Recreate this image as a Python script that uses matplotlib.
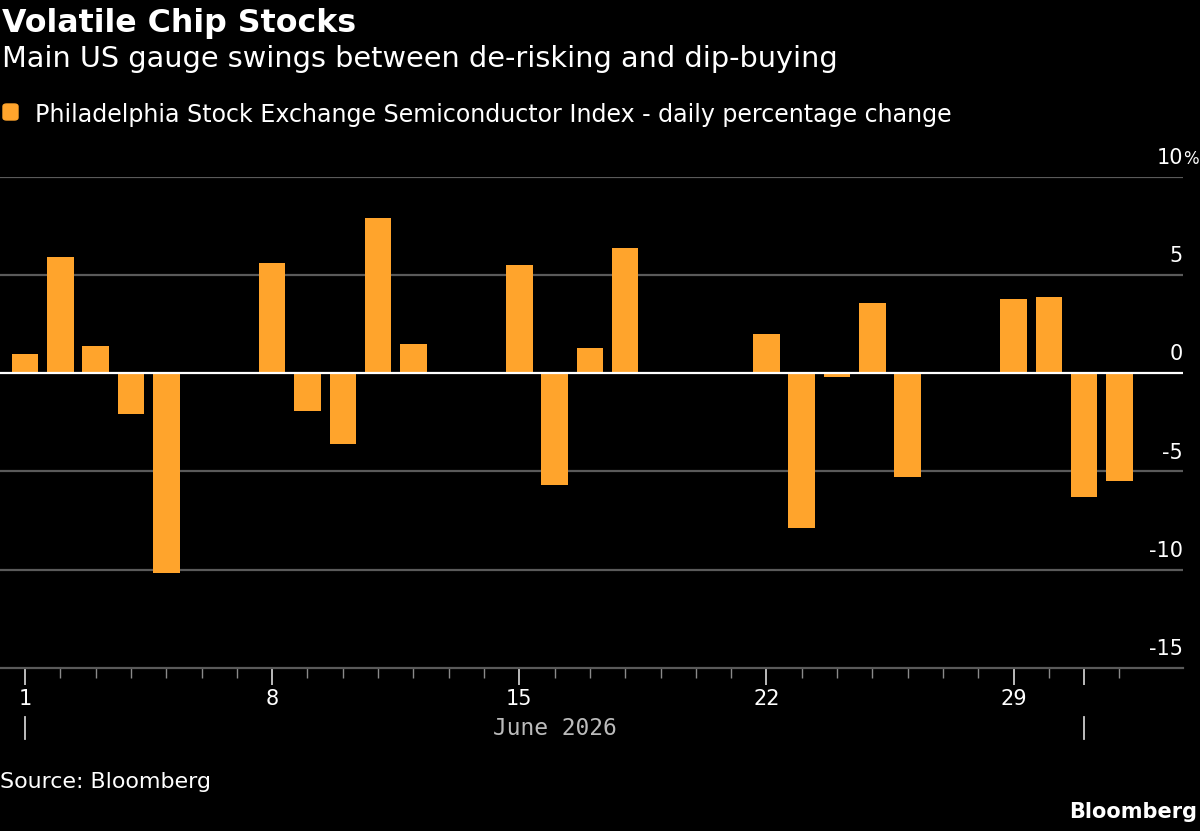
import numpy as np
import matplotlib
matplotlib.use('Agg')
import matplotlib.pyplot as plt
from matplotlib.patches import FancyBboxPatch
import matplotlib.transforms as mtransforms

# trading days, June 2026 (31, 32 = July 1, 2)
days = [1, 2, 3, 4, 5, 8, 9, 10, 11, 12, 15, 16, 17, 18,
        22, 23, 24, 25, 26, 29, 30, 31, 32]
changes = [1.0, 5.9, 1.4, -2.1, -10.2, 5.6, -1.9, -3.6, 7.9, 1.5,
           5.5, -5.7, 1.3, 6.4, 2.0, -7.9, -0.2, 3.6, -5.3,
           3.8, 3.9, -6.3, -5.5]
xtick_days = [1, 8, 15, 22, 29]
xtick_labels = ['1', '8', '15', '22', '29']
ytick_vals = [10, 5, 0, -5, -10, -15]
ytick_labels = ['10', '5', '0', '-5', '-10', '-15']

orange = '#FFA42C'
grid = '#5a5a5a'
plt.rcParams['font.family'] = ['DejaVu Sans']

W, H = 1200, 831
fig = plt.figure(figsize=(12, 8.31), dpi=100, facecolor='black')
ax = fig.add_axes([0, 1 - 667.7 / H, 1183 / W, (667.7 - 177) / H])
ax.set_facecolor('black')

ax.bar(days, changes, width=0.75, color=orange, zorder=3)
ax.set_xlim(0.29, 33.8)
ax.set_ylim(-15, 10)

for v in ytick_vals[:-1]:
    if v == 0:
        continue
    ax.axhline(v, color=grid, lw=1.6, zorder=1)
ax.axhline(0, color='white', lw=1.6, zorder=4)

for s in ['top', 'right', 'left']:
    ax.spines[s].set_visible(False)
ax.spines['bottom'].set_color(grid)
ax.spines['bottom'].set_linewidth(1.6)

ax.set_yticks([])
ax.set_xticks(xtick_days + [31])
ax.set_xticklabels(xtick_labels + [''])
ax.set_xticks(range(1, 33), minor=True)
ax.tick_params(axis='x', which='major', length=12, width=1.4, color='#bbbbbb',
               labelcolor='white', labelsize=15, pad=3)
ax.tick_params(axis='x', which='minor', length=7, width=1.0, color='#8a8a8a')

# y labels above gridlines, right aligned
yt = mtransforms.blended_transform_factory(ax.transAxes, ax.transData)
for v, lab in zip(ytick_vals, ytick_labels):
    ax.text(1.0, v + 0.45, lab, transform=yt, ha='right', va='bottom',
            color='white', fontsize=15, clip_on=False)
ax.text(1.0, 10 + 0.45, '%', transform=yt, ha='left', va='bottom',
        color='white', fontsize=12, clip_on=False)

# month markers
xt = mtransforms.blended_transform_factory(ax.transData, ax.transAxes)
for d in [1, 31]:
    ax.plot([d, d], [-0.1005, -0.145], transform=xt, color='#cccccc',
            lw=1.3, clip_on=False)
ax.text(16, -(735 - 667.7) / 490.7, 'June 2026', transform=xt, ha='center',
        va='baseline', color='#bbbbbb', fontsize=16.5, family='DejaVu Sans Mono')

# titles
fig.text(0.002, 1 - 32 / H, 'Volatile Chip Stocks', color='white',
         fontsize=22.8, fontweight='bold', va='baseline')
fig.text(0.002, 1 - 67 / H, 'Main US gauge swings between de-risking and dip-buying',
         color='white', fontsize=20.7, va='baseline')
fig.patches.append(FancyBboxPatch((3 / W, 1 - 120 / H), 15 / W, 16 / H,
                                  boxstyle='round,pad=0,rounding_size=0.003',
                                  transform=fig.transFigure, color=orange))
fig.text(35 / W, 1 - 122 / H,
         'Philadelphia Stock Exchange Semiconductor Index - daily percentage change',
         color='white', fontsize=17.1, va='baseline')

fig.text(0.0, 1 - 782 / H, 'Source: Bloomberg', color='white', fontsize=15.9,
         va='center')
fig.text(1197 / W, 1 - 812 / H, 'Bloomberg', color='white', fontsize=15,
         fontweight='bold', ha='right', va='center')

plt.savefig('out.png', dpi=100, facecolor='black')
